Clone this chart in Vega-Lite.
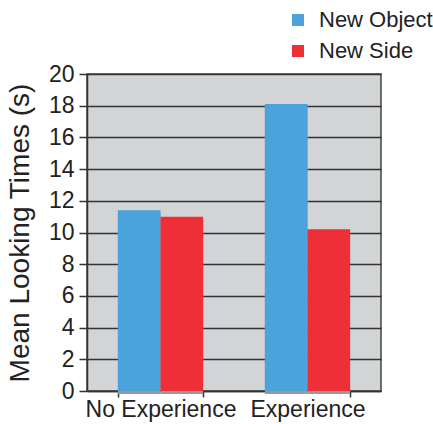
{
  "$schema": "https://vega.github.io/schema/vega-lite/v6.json",
  "autosize": {"type": "none"},
  "padding": {"left": 87, "top": 74, "right": 52, "bottom": 33},
  "width": 294,
  "height": 317,
  "background": "white",
  "data": {"values": [
    {"group": "No Experience", "condition": "New Object", "value": 11.4},
    {"group": "No Experience", "condition": "New Side", "value": 11.0},
    {"group": "Experience", "condition": "New Object", "value": 18.1},
    {"group": "Experience", "condition": "New Side", "value": 10.2}
  ]},
  "config": {
    "font": "Liberation Sans",
    "view": {"fill": "#d3d4d6", "stroke": "#444", "strokeWidth": 1.5}
  },
  "encoding": {
    "x": {"field": "group", "type": "nominal", "sort": ["No Experience", "Experience"],
      "scale": {"paddingInner": 0.42, "paddingOuter": 0.21},
      "axis": {"title": null, "labelAngle": 0, "labelFontSize": 23, "labelColor": "#222", "domainColor": "#333", "domainWidth": 1.5, "tickColor": "#333", "tickWidth": 1.5, "tickSize": 6, "tickBand": "extent", "labelPadding": 1}},
    "xOffset": {"field": "condition", "type": "nominal", "sort": ["New Object", "New Side"]},
    "y": {"field": "value", "type": "quantitative",
      "scale": {"domain": [0, 20], "nice": false},
      "axis": {"title": "Mean Looking Times (s)", "titleFontSize": 28, "titleFontWeight": "normal", "titleColor": "#222", "titlePadding": 14,
        "values": [0, 2, 4, 6, 8, 10, 12, 14, 16, 18, 20],
        "labelFontSize": 23, "labelColor": "#222", "labelPadding": 5,
        "domainColor": "#333", "domainWidth": 1.5, "tickColor": "#333", "tickWidth": 1.5, "tickSize": 8,
        "grid": true, "gridColor": "#333", "gridWidth": 1.5}}
  },
  "layer": [
    {"mark": {"type": "bar", "color": "#999999", "xOffset": 3, "yOffset": 3}},
    {"mark": {"type": "bar"},
      "encoding": {
        "color": {"field": "condition", "type": "nominal",
          "scale": {"domain": ["New Object", "New Side"], "range": ["#4aa3db", "#ee2f37"]},
          "legend": {"title": null, "orient": "none", "legendX": 200, "legendY": -65, "symbolType": "square", "symbolSize": 144, "symbolOpacity": 1, "labelFontSize": 22, "labelColor": "#222", "rowPadding": 9, "labelOffset": 10}}
      }}
  ]
}
